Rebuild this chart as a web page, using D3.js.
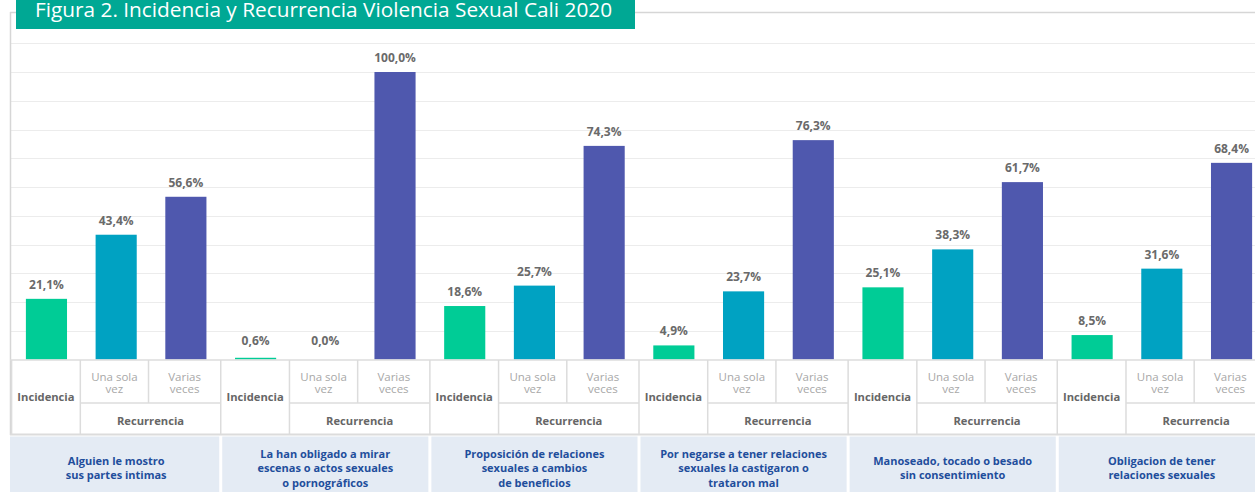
<!DOCTYPE html>
<html>
<head>
<meta charset="utf-8">
<script src="https://cdn.jsdelivr.net/npm/d3@7"></script>
<style>
  html, body { margin: 0; padding: 0; background: #fff; }
  svg { display: block; font-family: "Open Sans", sans-serif; }
</style>
</head>
<body>
<svg id="chart" width="1255" height="492"></svg>
<script>
const title = "Figura 2. Incidencia y Recurrencia Violencia Sexual Cali 2020";
const groups = [
  ["Alguien le mostro", "sus partes intimas"],
  ["La han obligado a mirar", "escenas o actos sexuales", "o pornográficos"],
  ["Proposición de relaciones", "sexuales a cambios", "de beneficios"],
  ["Por negarse a tener relaciones", "sexuales la castigaron o", "trataron mal"],
  ["Manoseado, tocado o besado", "sin consentimiento"],
  ["Obligacion de tener", "relaciones sexuales"]
];
const seriesKeys = ["Incidencia", "Una sola vez", "Varias veces"];
const incidencia = [21.1, 0.6, 18.6, 4.9, 25.1, 8.5];
const unaSolaVez = [43.4, 0.0, 25.7, 23.7, 38.3, 31.6];
const variasVeces = [56.6, 100.0, 74.3, 76.3, 61.7, 68.4];
const yTicks = [10, 20, 30, 40, 50, 60, 70, 80, 90, 100, 110];
const colors = ["#00CC96", "#00A2C2", "#4F58AE"];

const svg = d3.select("#chart");
const W = 1255;
const baseY = 359.5;

// flat list of bars
const bars = [];
groups.forEach((g, gi) => {
  [incidencia, unaSolaVez, variasVeces].forEach((arr, si) => {
    bars.push({ key: gi + "-" + si, gi, si, value: arr[gi] });
  });
});

const x = d3.scaleBand()
  .domain(bars.map(d => d.key))
  .range([11.6, 1266.4])
  .paddingInner(0.41)
  .paddingOuter(0.205);
const step = x.step();
const cellLeft = k => x(k) - step * x.paddingInner() / 2;

const y = d3.scaleLinear().domain([0, 120]).range([baseY, baseY - 120 * 2.875]);

// gridlines
svg.append("g").selectAll("line").data(yTicks).join("line")
  .attr("x1", 10).attr("x2", W)
  .attr("y1", d => Math.round(y(d)) + 0.5).attr("y2", d => Math.round(y(d)) + 0.5)
  .attr("stroke", "#ececec").attr("stroke-width", 1.2);

// frame top + left
svg.append("line").attr("x1", 10).attr("x2", W).attr("y1", 12.5).attr("y2", 12.5)
  .attr("stroke", "#d6d6d6").attr("stroke-width", 1.3);
svg.append("line").attr("x1", 10.5).attr("x2", 10.5).attr("y1", 12).attr("y2", 435)
  .attr("stroke", "#d6d6d6").attr("stroke-width", 1.5);

// title box
svg.append("rect").attr("x", 16).attr("y", 0).attr("width", 619).attr("height", 29)
  .attr("fill", "#00A894");
svg.append("text").attr("x", 35).attr("y", 17)
  .attr("fill", "#fff").attr("font-size", 20.8).attr("font-weight", 400)
  .text(title);

// bars
svg.append("g").selectAll("rect").data(bars).join("rect")
  .attr("x", d => x(d.key)).attr("width", x.bandwidth())
  .attr("y", d => y(d.value)).attr("height", d => y(0) - y(d.value))
  .attr("fill", d => colors[d.si]);

// value labels
svg.append("g").selectAll("text").data(bars).join("text")
  .attr("x", d => x(d.key) + x.bandwidth() / 2)
  .attr("y", d => Math.min(y(d.value), baseY - 5) - 10)
  .attr("text-anchor", "middle")
  .attr("font-size", 12).attr("font-weight", 700).attr("fill", "#6a6a6a")
  .text(d => d.value.toFixed(1).replace(".", ",") + "%");

// table
const rowTop = 360, rowMid = 403, rowBot = 434.5;
const lineC = "#dcdcdc";
const tg = svg.append("g");
tg.append("line").attr("x1", 10).attr("x2", W).attr("y1", rowTop).attr("y2", rowTop)
  .attr("stroke", lineC).attr("stroke-width", 1.5);
tg.append("line").attr("x1", 10).attr("x2", W).attr("y1", rowBot).attr("y2", rowBot)
  .attr("stroke", lineC).attr("stroke-width", 2);

groups.forEach((g, gi) => {
  const k0 = gi + "-0", k1 = gi + "-1", k2 = gi + "-2";
  const gx0 = cellLeft(k0), gx1 = cellLeft(k1) - 1, gx2 = cellLeft(k2) - 2.5, gx3 = gx0 + 3 * step;
  // vertical lines
  tg.append("line").attr("x1", gx0).attr("x2", gx0).attr("y1", rowTop).attr("y2", rowBot)
    .attr("stroke", lineC).attr("stroke-width", 1.5);
  tg.append("line").attr("x1", gx1).attr("x2", gx1).attr("y1", rowTop).attr("y2", rowBot)
    .attr("stroke", lineC).attr("stroke-width", 1.5);
  tg.append("line").attr("x1", gx2).attr("x2", gx2).attr("y1", rowTop).attr("y2", rowMid)
    .attr("stroke", lineC).attr("stroke-width", 1.5);
  tg.append("line").attr("x1", gx1).attr("x2", gx3).attr("y1", rowMid).attr("y2", rowMid)
    .attr("stroke", lineC).attr("stroke-width", 1.5);

  // Incidencia
  tg.append("text").attr("x", (gx0 + gx1) / 2).attr("y", 396)
    .attr("text-anchor", "middle").attr("dominant-baseline", "central")
    .attr("font-size", 11.2).attr("font-weight", 700).attr("fill", "#666")
    .text(seriesKeys[0]);
  // Una sola vez / Varias veces
  [["Una sola", "vez", gx1, gx2], ["Varias", "veces", gx2, gx3]].forEach(([l1, l2, a, b]) => {
    const t = tg.append("text").attr("text-anchor", "middle")
      .attr("font-size", 11.5).attr("fill", "#a8a8a8");
    t.append("tspan").attr("x", (a + b) / 2).attr("y", 376).attr("dominant-baseline", "central").text(l1);
    t.append("tspan").attr("x", (a + b) / 2).attr("y", 388.5).attr("dominant-baseline", "central").text(l2);
  });
  tg.append("text").attr("x", (gx1 + gx3) / 2).attr("y", 420)
    .attr("text-anchor", "middle").attr("dominant-baseline", "central")
    .attr("font-size", 11.2).attr("font-weight", 700).attr("fill", "#666")
    .text("Recurrencia");

  // category box
  const bx0 = gi === 0 ? 10 : gx0 + 1.5;
  tg.append("rect").attr("x", bx0).attr("y", 436.5)
    .attr("width", gx3 - 1.5 - bx0).attr("height", 492 - 436.5)
    .attr("fill", "#E4EBF4");
  const n = g.length;
  const cy = 467.5, lh = 14.5;
  const t = tg.append("text").attr("text-anchor", "middle")
    .attr("font-size", 11).attr("font-weight", 700).attr("fill", "#1F4E9C");
  g.forEach((line, li) => {
    t.append("tspan").attr("x", (gx0 + gx3) / 2)
      .attr("y", cy + (li - (n - 1) / 2) * lh)
      .attr("dominant-baseline", "central").text(line);
  });
});
</script>
</body>
</html>
